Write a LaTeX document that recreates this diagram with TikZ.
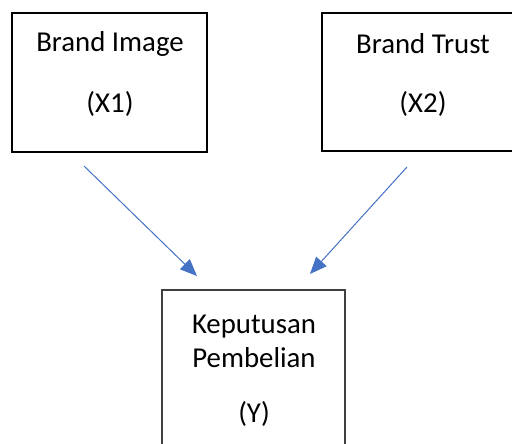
\documentclass[tikz,border=0pt]{standalone}
\usepackage{fontspec}
\setmainfont{Carlito}
\usetikzlibrary{arrows.meta}
\definecolor{arrowblue}{HTML}{4472C4}
\tikzset{
  box/.style={draw=black, line width=1.5pt},
  lbl/.style={inner sep=0pt, font=\fontsize{28.8}{34}\selectfont, anchor=center},
  link/.style={draw=arrowblue, line width=1pt, -{Triangle[length=17pt,width=14pt]}}
}
\begin{document}
\begin{tikzpicture}[x=1pt,y=-1pt]
  \useasboundingbox (0,0) rectangle (512,444);
  \clip (0,0) rectangle (512,444);
  % the three boxes
  \draw[box] (12,13) rectangle (207,152);
  \draw[box] (322,13) rectangle (520,151);
  \draw[box, draw=black!75] (162,290) rectangle (345,460);
  % labels
  \node[lbl] (bi) at (110,44) {Brand Image};
  \node[lbl] (x1) at (110,104) {(X1)};
  \node[lbl] (bt) at (423,44) {Brand Trust};
  \node[lbl] (x2) at (423,104) {(X2)};
  \node[lbl] (kp) at (254,327) {Keputusan};
  \node[lbl] (pb) at (254,358) {Pembelian};
  \node[lbl] (yy) at (254,414) {(Y)};
  % connector ends
  \coordinate (s1) at (84,166);
  \coordinate (e1) at (197,276);
  \coordinate (s2) at (407,167);
  \coordinate (e2) at (310,274);
  \draw[link] (s1) -- (e1);
  \draw[link] (s2) -- (e2);
\end{tikzpicture}
\end{document}
